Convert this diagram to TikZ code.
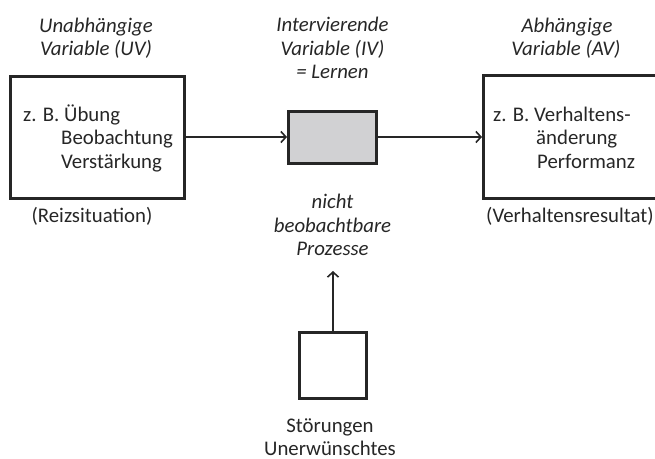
\documentclass[tikz,border=0pt]{standalone}
\usepackage{fontspec}
\setmainfont{Carlito}
\usetikzlibrary{arrows.meta}
\definecolor{ink}{HTML}{262626}
\definecolor{boxgray}{HTML}{D1D1D3}
\begin{document}
\begin{tikzpicture}[x=1pt,y=-1pt,
  every node/.style={text=ink, font=\fontsize{20.8}{24}\selectfont, inner sep=0pt},
  frame/.style={draw=ink, line width=3pt, minimum width=#1},
  arr/.style={draw=ink, line width=1.6pt, -{Straight Barb[length=5pt,width=11pt,line width=1.6pt]}},
  lbl/.style={anchor=base},
  ilbl/.style={anchor=base, font=\fontsize{20.8}{24}\selectfont\itshape},
  lft/.style={anchor=base west}]
\useasboundingbox (0,0) rectangle (655,458);
\clip (0,0) rectangle (655,458);

% boxes
\node[frame=174pt, minimum height=122pt] (uv) at (97.5,137) {};
\node[frame=88pt, minimum height=52pt, fill=boxgray] (iv) at (332.5,137) {};
\node[frame=200pt, minimum height=123pt] (av) at (583.5,137) {};
\node[frame=67pt, minimum height=66pt] (st) at (333,365.5) {};
\coordinate (tip) at (333,271);

% connectors
\draw[arr] (uv.east) -- (iv.west);
\draw[arr] (iv.east) -- (av.west);
\draw[arr] (st.north) -- (tip);

% headings
\node[ilbl] (h1a) at (96,32) {Unabhängige};
\node[ilbl] (h1b) at (96,55) {Variable (UV)};
\node[ilbl] (h2a) at (332.5,31) {Intervierende};
\node[ilbl] (h2b) at (332.5,55) {Variable (IV)};
\node[ilbl] (h2c) at (332.5,78) {= Lernen};
\node[ilbl] (h3a) at (567,32) {Abhängige};
\node[ilbl] (h3b) at (566,55) {Variable (AV)};

% box contents
\node[lft] (u1) at (23,121) {z. B. Übung};
\node[lft] (u2) at (61,144.5) {Beobachtung};
\node[lft] (u3) at (61,168) {Verstärkung};
\node[lft] (a1) at (493,121) {z. B. Verhaltens-};
\node[lft] (a2) at (536,144.5) {änderung};
\node[lft] (a3) at (537,168) {Performanz};

% captions
\node[lbl] (c1) at (92,222) {(Reizsituation)};
\node[lft] (c3) at (486,222) {(Verhaltensresultat)};
\node[ilbl] (p1) at (332.5,208) {nicht};
\node[ilbl] (p2) at (332.5,232) {beobachtbare};
\node[ilbl] (p3) at (332.5,255) {Prozesse};
\node[lbl] (s1) at (330,432) {Störungen};
\node[lbl] (s2) at (330,455) {Unerwünschtes};
\end{tikzpicture}
\end{document}
